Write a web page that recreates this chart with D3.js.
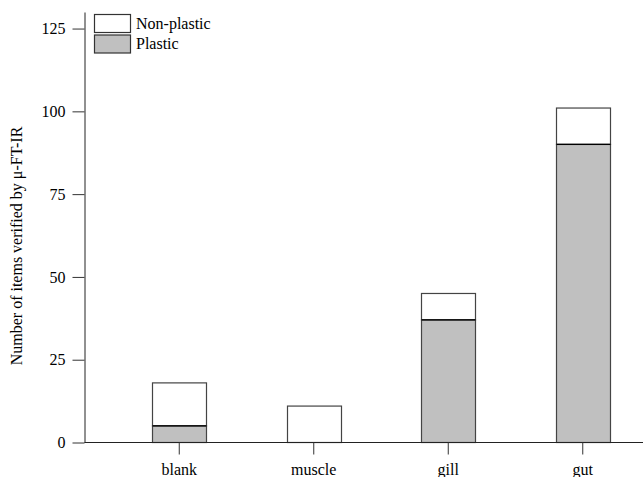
<!DOCTYPE html>
<html>
<head>
<meta charset="utf-8">
<script src="https://cdn.jsdelivr.net/npm/d3@7"></script>
<style>
  html, body { margin: 0; padding: 0; background: #fff; }
  svg { display: block; font-family: "Liberation Serif", "Times New Roman", serif; }
  .tick text { font-size: 16px; fill: #000; font-family: "Liberation Serif", "Times New Roman", serif; }
  .tick line { stroke: #333; }
  .domain { stroke: #222; }
</style>
</head>
<body>
<svg id="chart" width="643" height="477"></svg>
<script>
const categories = ['blank', 'muscle', 'gill', 'gut'];
const plastic = [5, 0, 37, 90];
const nonPlastic = [13, 11, 8, 11];
const yTicks = [0, 25, 50, 75, 100, 125];
const seriesNames = ['Non-plastic', 'Plastic'];

const width = 643, height = 477;
const axisX = 84.5, baseY = 442.5;

const svg = d3.select('#chart');

const x = d3.scaleBand()
  .domain(categories)
  .range([112, 650])
  .paddingInner(0.6)
  .paddingOuter(0.3);

const y = d3.scaleLinear()
  .domain([0, 130])
  .range([baseY, 12]);

const data = categories.map((c, i) => ({ category: c, plastic: plastic[i], nonPlastic: nonPlastic[i] }));

// Bars: non-plastic stacked on top of plastic
const bars = svg.append('g');

bars.selectAll('.np')
  .data(data)
  .enter()
  .append('rect')
  .attr('x', d => Math.round(x(d.category)) + 0.5)
  .attr('y', d => y(d.plastic + d.nonPlastic))
  .attr('width', Math.round(x.bandwidth()))
  .attr('height', d => y(d.plastic) - y(d.plastic + d.nonPlastic))
  .attr('fill', '#fff')
  .attr('stroke', '#444')
  .attr('stroke-width', 1.2);

bars.selectAll('.p')
  .data(data.filter(d => d.plastic > 0))
  .enter()
  .append('rect')
  .attr('x', d => Math.round(x(d.category)) + 0.5)
  .attr('y', d => y(d.plastic))
  .attr('width', Math.round(x.bandwidth()))
  .attr('height', d => baseY - y(d.plastic))
  .attr('fill', '#c0c0c0')
  .attr('stroke', '#444')
  .attr('stroke-width', 1.2);

// divider line between the two segments
bars.selectAll('.div')
  .data(data.filter(d => d.plastic > 0))
  .enter()
  .append('line')
  .attr('x1', d => Math.round(x(d.category)) + 0.5)
  .attr('x2', d => Math.round(x(d.category)) + 0.5 + Math.round(x.bandwidth()))
  .attr('y1', d => y(d.plastic))
  .attr('y2', d => y(d.plastic))
  .attr('stroke', '#000')
  .attr('stroke-width', 1.2);

// Y axis
svg.append('g')
  .attr('transform', `translate(${axisX},0)`)
  .call(d3.axisLeft(y).tickValues(yTicks).tickSize(12).tickSizeOuter(0).tickPadding(7))
  .call(g => g.attr('font-family', null))
  .call(g => g.selectAll('.tick text').attr('dy', '0.33em'));

// X axis baseline
svg.append('line')
  .attr('x1', axisX)
  .attr('x2', width)
  .attr('y1', baseY)
  .attr('y2', baseY)
  .attr('stroke', '#222');

// X ticks
svg.append('g')
  .attr('transform', `translate(0,${baseY})`)
  .call(d3.axisBottom(x).tickSize(12).tickSizeOuter(0).tickPadding(10))
  .call(g => g.attr('font-family', null))
  .call(g => g.select('.domain').remove())
  .call(g => g.selectAll('.tick text').attr('dy', '0.71em').attr('y', 21));

// Y label
svg.append('text')
  .attr('transform', 'translate(22,246) rotate(-90)')
  .attr('text-anchor', 'middle')
  .attr('font-size', 16)
  .text('Number of items verified by μ-FT-IR');

// Legend
const legend = svg.append('g');
const legendFill = ['#fff', '#c0c0c0'];
seriesNames.forEach((name, i) => {
  const ly = 14.5 + i * 20.5;
  legend.append('rect')
    .attr('x', 94.5)
    .attr('y', ly)
    .attr('width', 36)
    .attr('height', 18)
    .attr('fill', legendFill[i])
    .attr('stroke', '#333')
    .attr('stroke-width', 1.2);
  legend.append('text')
    .attr('x', 136)
    .attr('y', ly + 9)
    .attr('dy', '0.33em')
    .attr('font-size', 16)
    .text(name);
});
</script>
</body>
</html>
